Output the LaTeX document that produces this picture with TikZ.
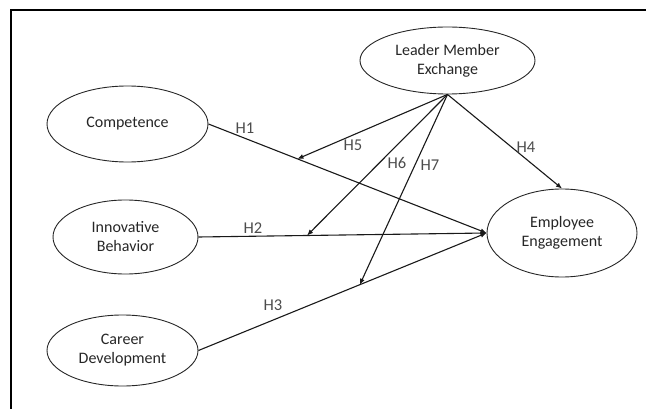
\documentclass[tikz,border=0pt]{standalone}
\usepackage{fontspec}
\setmainfont{Carlito}
\usetikzlibrary{shapes.geometric,arrows.meta}
\begin{document}
\begin{tikzpicture}[x=1pt,y=-1pt,
  construct/.style={draw=black!85,line width=0.9pt,ellipse,inner sep=0pt,align=center,
    text=black!85,font=\fontsize{16}{19}\selectfont},
  path/.style={draw=black!90,line width=1.1pt,-{Latex[length=6pt,width=5pt]}},
  hyp/.style={text=black!70,font=\fontsize{16.5}{19}\selectfont,inner sep=0pt}]
\useasboundingbox (0,0) rectangle (646,409);
\draw[line width=1.8pt] (11,409) -- (11,10) -- (646,10);
\node[construct,minimum width=175pt,minimum height=67pt] (lmx) at (447.5,60.5) {Leader Member\\Exchange};
\node[construct,minimum width=161pt,minimum height=76pt] (comp) at (127.5,124) {Competence};
\node[construct,minimum width=145pt,minimum height=74pt] (innov) at (125.5,237) {Innovative\\Behavior};
\node[construct,minimum width=151pt,minimum height=71pt] (career) at (122.5,350.5) {Career\\Development};
\node[construct,minimum width=150pt,minimum height=88pt] (ee) at (562,233) {Employee\\Engagement};
\draw[path] (comp.east) -- coordinate[pos=0.32] (m5) (ee.west);
\draw[path] (innov.east) -- coordinate[pos=0.377] (m6) (ee.west);
\draw[path] (career.east) -- coordinate[pos=0.56] (m7) (ee.west);
\draw[path] (lmx.south) -- (m5);
\draw[path] (lmx.south) -- (m6);
\draw[path] (lmx.south) -- (m7);
\draw[path] (lmx.south) -- (ee.north);
\node[hyp] (h1) at (245,128) {H1};
\node[hyp] (h2) at (253,228) {H2};
\node[hyp] (h3) at (273,305) {H3};
\node[hyp] (h4) at (526,147) {H4};
\node[hyp] (h5) at (353,145) {H5};
\node[hyp] (h6) at (397,163) {H6};
\node[hyp] (h7) at (430,165) {H7};
\end{tikzpicture}
\end{document}
